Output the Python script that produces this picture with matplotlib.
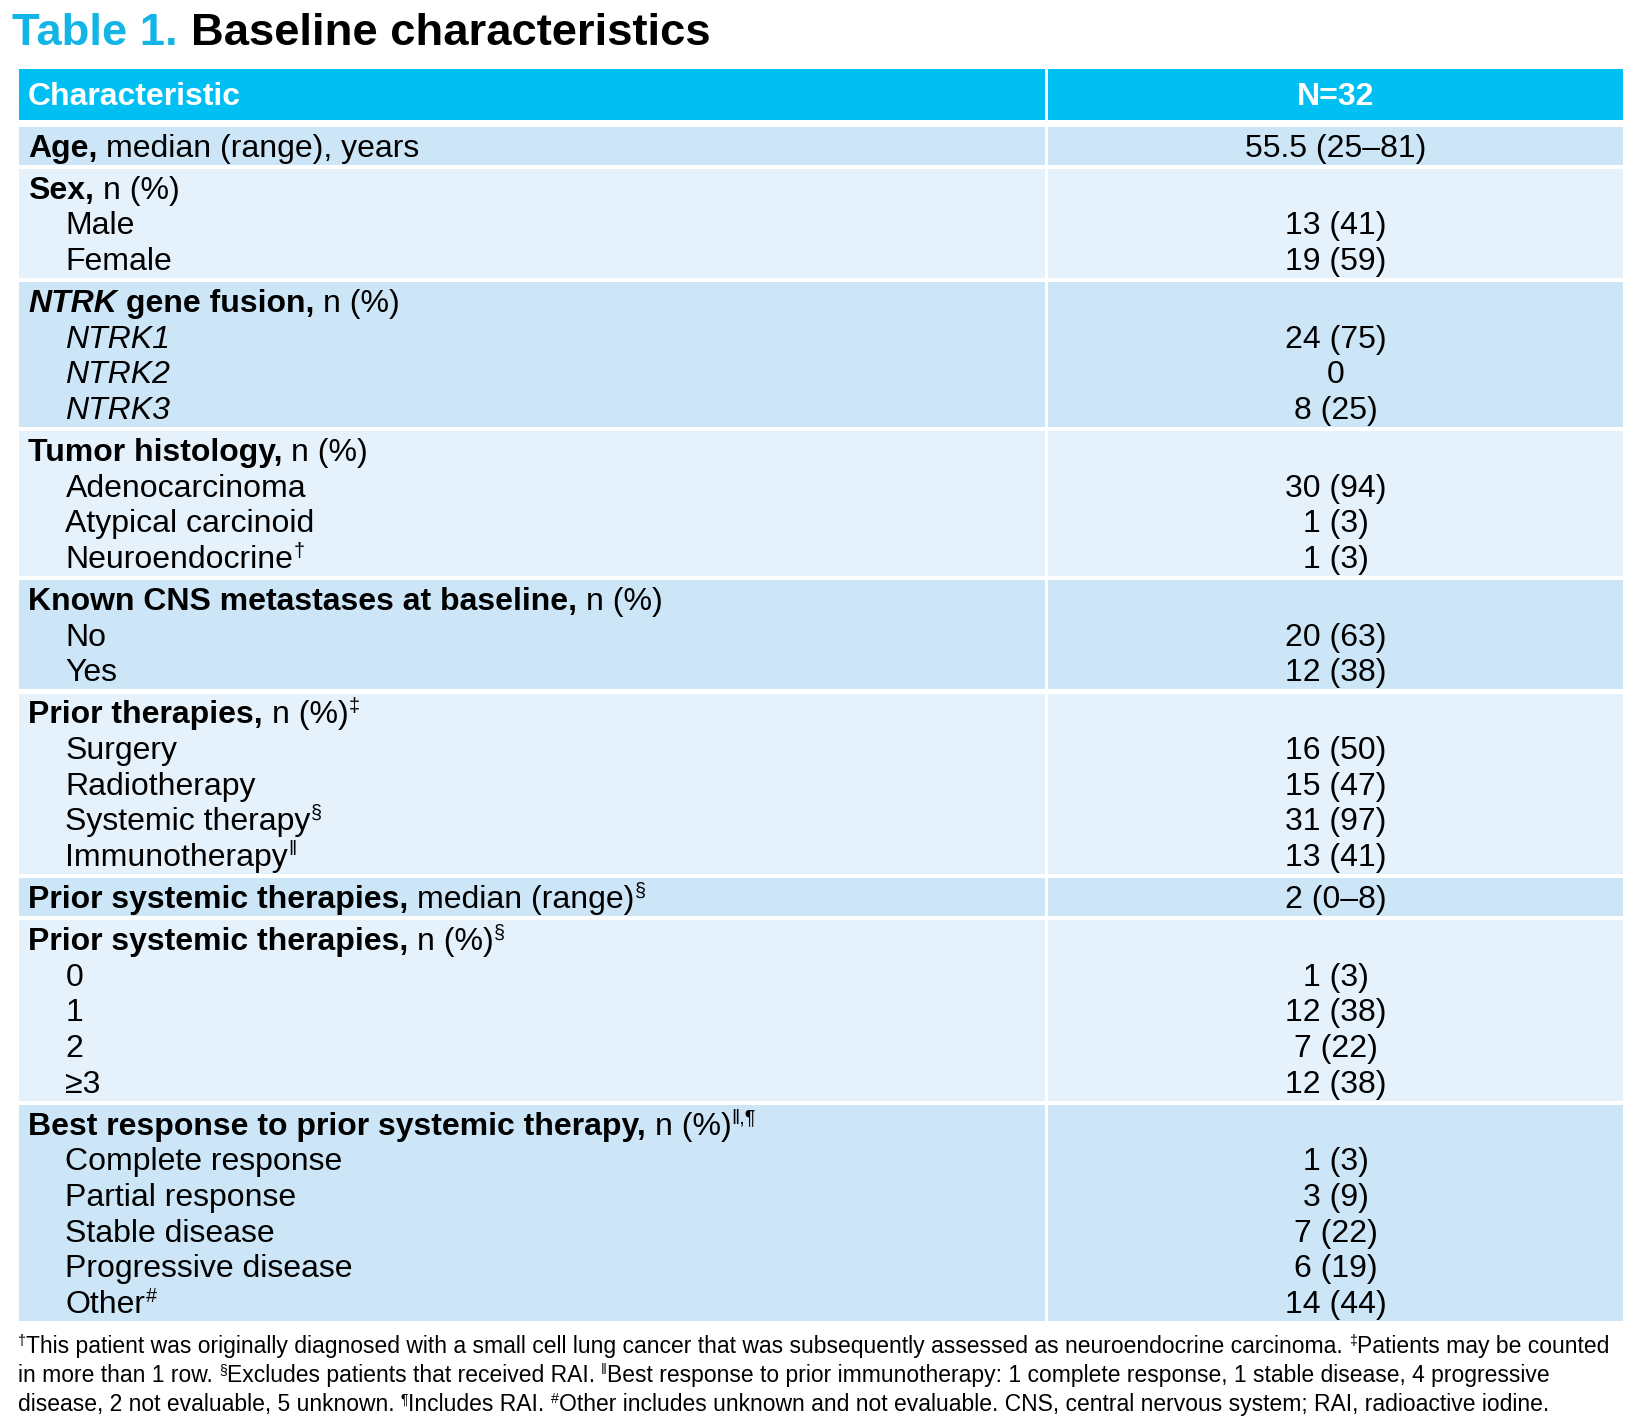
import matplotlib
matplotlib.use("Agg")
import matplotlib.pyplot as plt
from matplotlib.patches import Rectangle

W, H = 1631, 1425
FONT = ["Liberation Sans", "DejaVu Sans"]
plt.rcParams["font.family"] = FONT

# ---------------- data ----------------
title_prefix = "Table 1."
title_text = "Baseline characteristics"
col_headers = ["Characteristic", "N=32"]

age_heading = [("Age,", "b"), (" median (range), years", "r")]
age_value = "55.5 (25–81)"

sex_heading = [("Sex,", "b"), (" n (%)", "r")]
sex_labels = ["Male", "Female"]
sex_values = ["13 (41)", "19 (59)"]

ntrk_heading = [("NTRK", "bi"), (" gene fusion,", "b"), (" n (%)", "r")]
ntrk_labels = ["NTRK1", "NTRK2", "NTRK3"]
ntrk_values = ["24 (75)", "0", "8 (25)"]

histology_heading = [("Tumor histology,", "b"), (" n (%)", "r")]
histology_labels = ["Adenocarcinoma", "Atypical carcinoid", "Neuroendocrine^†"]
histology_values = ["30 (94)", "1 (3)", "1 (3)"]

cns_heading = [("Known CNS metastases at baseline,", "b"), (" n (%)", "r")]
cns_labels = ["No", "Yes"]
cns_values = ["20 (63)", "12 (38)"]

prior_heading = [("Prior therapies,", "b"), (" n (%)", "r"), ("‡", "sup")]
prior_labels = ["Surgery", "Radiotherapy", "Systemic therapy^§", "Immunotherapy^‖"]
prior_values = ["16 (50)", "15 (47)", "31 (97)", "13 (41)"]

median_heading = [("Prior systemic therapies,", "b"), (" median (range)", "r"), ("§", "sup")]
median_value = "2 (0–8)"

nprior_heading = [("Prior systemic therapies,", "b"), (" n (%)", "r"), ("§", "sup")]
nprior_labels = ["0", "1", "2", "≥3"]
nprior_values = ["1 (3)", "12 (38)", "7 (22)", "12 (38)"]

response_heading = [("Best response to prior systemic therapy,", "b"), (" n (%)", "r"), ("‖,¶", "sup")]
response_labels = ["Complete response", "Partial response", "Stable disease",
                   "Progressive disease", "Other^#"]
response_values = ["1 (3)", "3 (9)", "7 (22)", "6 (19)", "14 (44)"]

footnote_lines = [
    [("†", "sup"), ("This patient was originally diagnosed with a small cell lung cancer that was "
                    "subsequently assessed as neuroendocrine carcinoma. ", "r"),
     ("‡", "sup"), ("Patients may be counted", "r")],
    [("in more than 1 row. ", "r"), ("§", "sup"), ("Excludes patients that received RAI. ", "r"),
     ("‖", "sup"), ("Best response to prior immunotherapy: 1 complete response, 1 stable disease, "
                    "4 progressive", "r")],
    [("disease, 2 not evaluable, 5 unknown. ", "r"), ("¶", "sup"), ("Includes RAI. ", "r"),
     ("#", "sup"), ("Other includes unknown and not evaluable. CNS, central nervous system; "
                    "RAI, radioactive iodine.", "r")],
]

# (heading, heading value, sub labels, sub values, italic sub labels)
sections = [
    (age_heading, age_value, [], [], False),
    (sex_heading, "", sex_labels, sex_values, False),
    (ntrk_heading, "", ntrk_labels, ntrk_values, True),
    (histology_heading, "", histology_labels, histology_values, False),
    (cns_heading, "", cns_labels, cns_values, False),
    (prior_heading, "", prior_labels, prior_values, False),
    (median_heading, median_value, [], [], False),
    (nprior_heading, "", nprior_labels, nprior_values, False),
    (response_heading, "", response_labels, response_values, False),
]

# ---------------- style ----------------
HEADER_BG = "#00BFF2"
TITLE_CYAN = "#13B5E6"
DARK_ROW = "#CCE6F8"
LIGHT_ROW = "#E5F2FC"

BODY_PT = 23.0
TITLE_PT = 32.7
FOOT_PT = 16.45
PX = 100 / 72.0

X_LEFT, X_DIV_L, X_DIV_R, X_RIGHT = 18.7, 1045.5, 1048.5, 1623
X_TEXT, X_INDENT = 28, 65.5
X_VAL = (X_DIV_R + X_RIGHT) / 2
HEAD_TOP, HEAD_BOT = 68.7, 119.6
FIRST_TOP = 127.0
LINE_H = 35.7
ROW_PAD = 2.0
ROW_GAP = 4.2

fig = plt.figure(figsize=(W / 100, H / 100), dpi=100)
ax = fig.add_axes([0, 0, 1, 1])
ax.set_xlim(0, W)
ax.set_ylim(H, 0)
ax.axis("off")
renderer = fig.canvas.get_renderer()


def props(style):
    return ("bold" if "b" in style else "normal",
            "italic" if "i" in style else "normal")


def draw_segments(x, y, segs, size, color="black"):
    size_px = size * PX
    for text, style in segs:
        if style == "sup":
            fs = size * 0.62
            yy = y - 0.36 * size_px
            weight, fstyle = "normal", "normal"
        else:
            fs = size
            yy = y
            weight, fstyle = props(style)
        space_w = 0.278 * fs * PX
        lead = len(text) - len(text.lstrip(" "))
        trail = len(text) - len(text.rstrip(" "))
        core = text.strip(" ")
        x += lead * space_w
        if core:
            t = ax.text(x, yy, core, fontsize=fs, fontweight=weight, fontstyle=fstyle,
                        color=color, ha="left", va="baseline", family=FONT)
            x += t.get_window_extent(renderer).width
        x += trail * space_w
    return x


def parse_label(label, italic):
    base = "i" if italic else "r"
    if "^" in label:
        a, b = label.split("^", 1)
        return [(a, base), (b, "sup")]
    return [(label, base)]


# title
xt = draw_segments(12.5, 45, [(title_prefix, "b")], TITLE_PT, color=TITLE_CYAN)
draw_segments(xt, 45, [(" " + title_text, "b")], TITLE_PT)

# header
ax.add_patch(Rectangle((X_LEFT, HEAD_TOP), X_DIV_L - X_LEFT, HEAD_BOT - HEAD_TOP,
                       facecolor=HEADER_BG, edgecolor="none"))
ax.add_patch(Rectangle((X_DIV_R, HEAD_TOP), X_RIGHT - X_DIV_R, HEAD_BOT - HEAD_TOP,
                       facecolor=HEADER_BG, edgecolor="none"))
hb = (HEAD_TOP + HEAD_BOT) / 2 + 0.344 * BODY_PT * PX
draw_segments(X_TEXT, hb, [(col_headers[0], "b")], BODY_PT, color="white")
ax.text(X_VAL, hb, col_headers[1], fontsize=BODY_PT, fontweight="bold", color="white",
        ha="center", va="baseline")

# body
top = FIRST_TOP
for k, (heading, hval, labels, values, ital) in enumerate(sections):
    n = 1 + len(labels)
    h = LINE_H * n + ROW_PAD
    color = DARK_ROW if k % 2 == 0 else LIGHT_ROW
    ax.add_patch(Rectangle((X_LEFT, top), X_DIV_L - X_LEFT, h, facecolor=color, edgecolor="none"))
    ax.add_patch(Rectangle((X_DIV_R, top), X_RIGHT - X_DIV_R, h, facecolor=color, edgecolor="none"))
    for i in range(n):
        base = top + ROW_PAD / 2 + LINE_H * (i + 0.5) + 0.34 * BODY_PT * PX
        if i == 0:
            draw_segments(X_TEXT, base, heading, BODY_PT)
            val = hval
        else:
            draw_segments(X_INDENT, base, parse_label(labels[i - 1], ital), BODY_PT)
            val = values[i - 1]
        if val:
            ax.text(X_VAL, base, val, fontsize=BODY_PT, color="black",
                    ha="center", va="baseline")
    top += h + ROW_GAP

# footnotes
for j, segs in enumerate(footnote_lines):
    draw_segments(17.7, 1353.0 + 29.2 * j, segs, FOOT_PT)

fig.savefig("out.png", dpi=100)
